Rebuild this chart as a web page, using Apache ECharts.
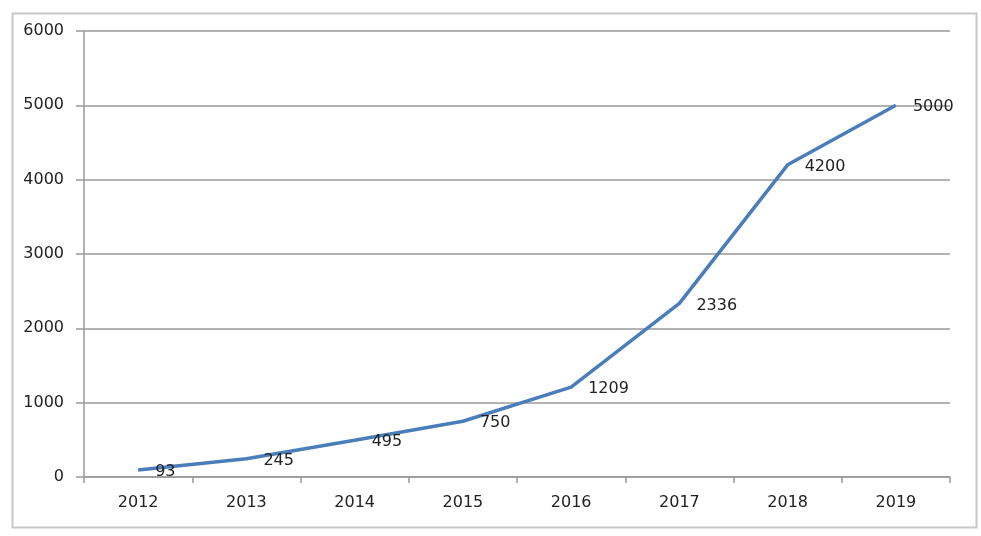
<!DOCTYPE html>
<html><head><meta charset="utf-8">
<script src="https://cdn.jsdelivr.net/npm/echarts@6/dist/echarts.min.js"></script>
<style>html,body{margin:0;padding:0;background:#fff}#c{width:981px;height:536px}</style>
</head><body><div id="c"></div>
<script>
const categories = ['2012','2013','2014','2015','2016','2017','2018','2019'];
const values = [93, 245, 495, 750, 1209, 2336, 4200, 5000];
const yTicks = {min: 0, max: 6000, interval: 1000};

const chart = echarts.init(document.getElementById('c'));
const font = 'DejaVu Sans';
chart.setOption({
  animation: false,
  backgroundColor: '#fff',
  graphic: [{
    type: 'rect', left: 10, top: 11, shape: {width: 964, height: 514},
    style: {fill: 'none', stroke: '#c8c8c8', lineWidth: 2}, silent: true
  }],
  grid: {left: 84, right: 31, top: 31, bottom: 59},
  xAxis: {
    type: 'category', data: categories, boundaryGap: true,
    axisLine: {lineStyle: {color: '#9a9a9a', width: 1.5}},
    axisTick: {show: true, length: 6, lineStyle: {color: '#9a9a9a', width: 1.5}},
    axisLabel: {color: '#222', fontFamily: font, fontSize: 16, margin: 18}
  },
  yAxis: {
    type: 'value', min: yTicks.min, max: yTicks.max, interval: yTicks.interval,
    axisLine: {show: true, lineStyle: {color: '#9a9a9a', width: 1.5}},
    axisTick: {show: true, length: 8, lineStyle: {color: '#9a9a9a', width: 1.5}},
    axisLabel: {color: '#222', fontFamily: font, fontSize: 16, margin: 20, formatter: v => String(v)},
    splitLine: {lineStyle: {color: '#9a9a9a', width: 1.5}}
  },
  series: [{
    type: 'line', data: values, symbol: 'circle', symbolSize: 2, showSymbol: true,
    itemStyle: {color: 'rgba(74,126,187,0)', borderWidth: 0},
    lineStyle: {color: '#4a7ebb', width: 3.5},
    label: {show: true, position: 'right', distance: 16, color: '#222', fontFamily: font, fontSize: 16, offset: [0, 2]}
  }]
});
</script></body></html>
